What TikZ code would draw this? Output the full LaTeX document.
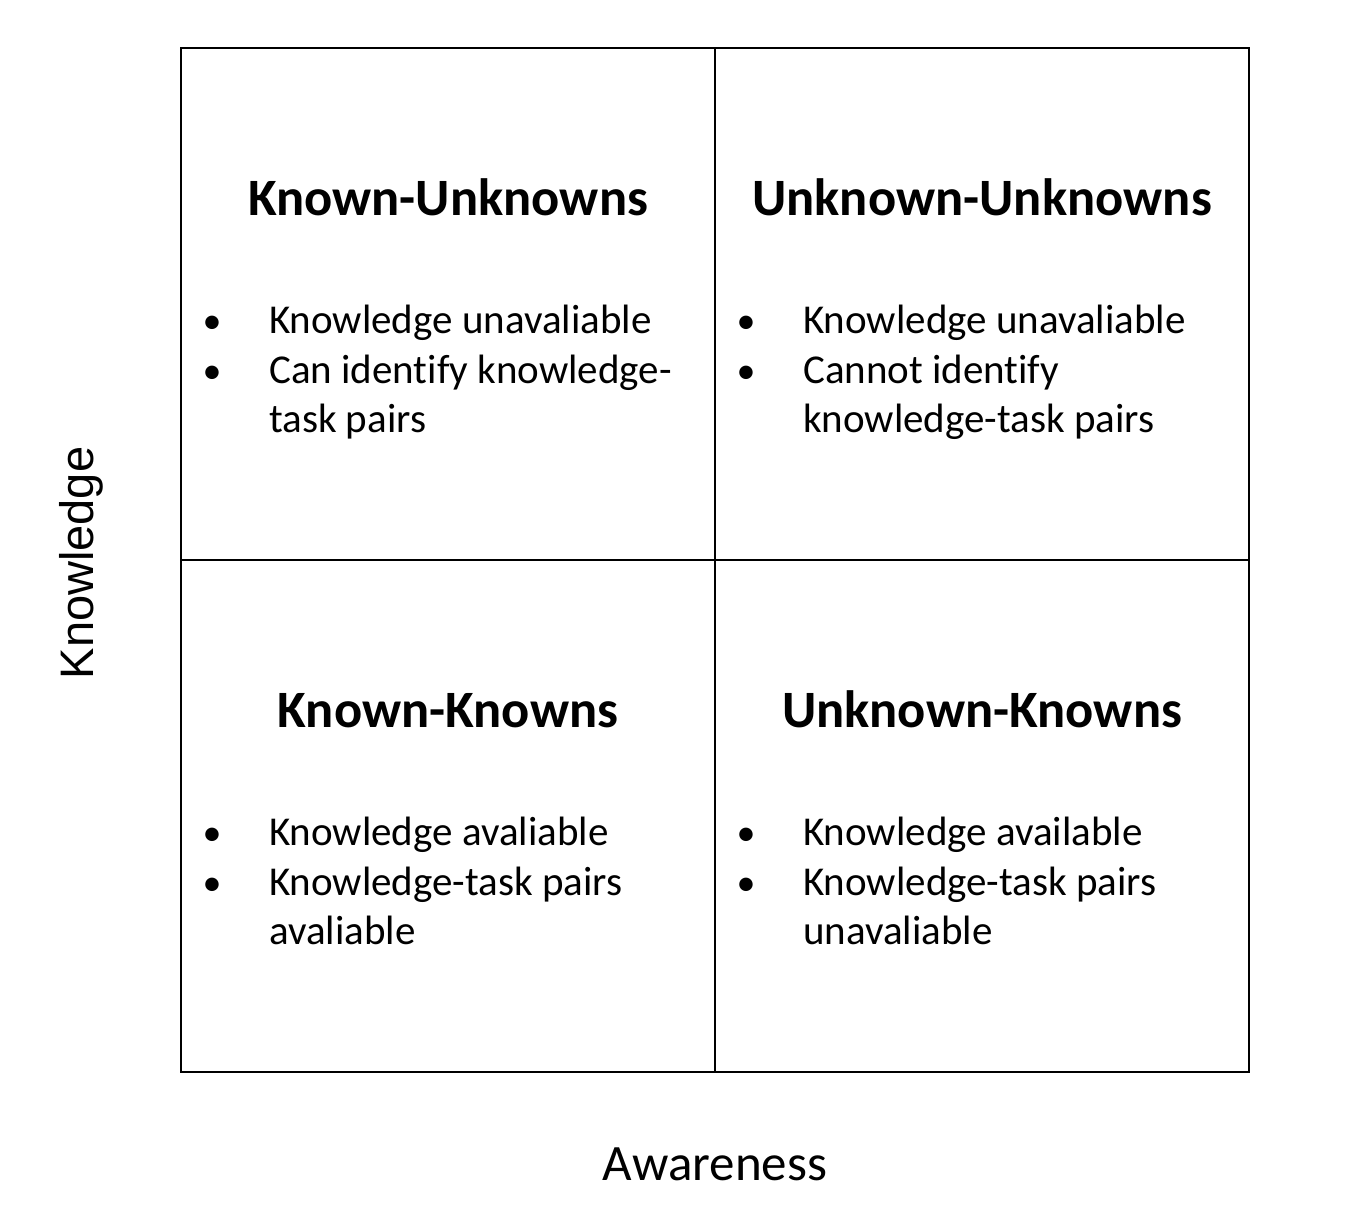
\documentclass[tikz,border=0pt]{standalone}
\usepackage{fontspec}
\setmainfont{Carlito}[Ligatures=NoCommon]
\newfontfamily\axisfont{Liberation Sans}
\begin{document}
\begin{tikzpicture}[x=1pt,y=-1pt,
  grid/.style={line width=2.8pt,line cap=rect},
  heading/.style={anchor=base,inner sep=0pt,font=\fontsize{52.5}{60}\selectfont\bfseries},
  bul/.style={anchor=base,inner sep=0pt,font=\fontsize{38}{50}\selectfont},
  line/.style={anchor=base west,inner sep=0pt,font=\fontsize{41}{50}\selectfont},
  axis/.style={inner sep=0pt}]
\useasboundingbox (0,0) rectangle (1368,1208);
% quadrant frame
\coordinate (tl) at (181,48);
\coordinate (br) at (1249,1072);
\draw[grid] (tl) rectangle (br);
\coordinate (tm) at (715,48);
\coordinate (bm) at (715,1072);
\coordinate (lm) at (181,560);
\coordinate (rm) at (1249,560);
\draw[grid] (tm) -- (bm);
\draw[grid] (lm) -- (rm);
% top-left
\node[heading] (h1) at (448,215) {Known-Unknowns};
\node[bul] (b11) at (212,333) {•};
\node[line] (t11) at (269,333) {Knowledge unavaliable};
\node[bul] (b12) at (212,383) {•};
\node[line] (t12) at (269,383) {Can identify knowledge-};
\node[line] (t13) at (269,432) {task pairs};
% top-right
\node[heading] (h2) at (982,215) {Unknown-Unknowns};
\node[bul] (b21) at (746,333) {•};
\node[line] (t21) at (803,333) {Knowledge unavaliable};
\node[bul] (b22) at (746,383) {•};
\node[line] (t22) at (803,383) {Cannot identify};
\node[line] (t23) at (803,432) {knowledge-task pairs};
% bottom-left
\node[heading] (h3) at (448,727) {Known-Knowns};
\node[bul] (b31) at (212,845) {•};
\node[line] (t31) at (269,845) {Knowledge avaliable};
\node[bul] (b32) at (212,895) {•};
\node[line] (t32) at (269,895) {Knowledge-task pairs};
\node[line] (t33) at (269,944) {avaliable};
% bottom-right
\node[heading] (h4) at (982,727) {Unknown-Knowns};
\node[bul] (b41) at (746,845) {•};
\node[line] (t41) at (803,845) {Knowledge available};
\node[bul] (b42) at (746,895) {•};
\node[line] (t42) at (803,895) {Knowledge-task pairs};
\node[line] (t43) at (803,944) {unavaliable};
% axis labels
\node[axis,anchor=base,rotate=90,font=\axisfont\fontsize{47}{56}\selectfont] (ky) at (93,563) {Knowledge};
\node[axis,anchor=base,font=\fontsize{51}{60}\selectfont] (ax) at (715,1180) {Awareness};
\end{tikzpicture}
\end{document}
